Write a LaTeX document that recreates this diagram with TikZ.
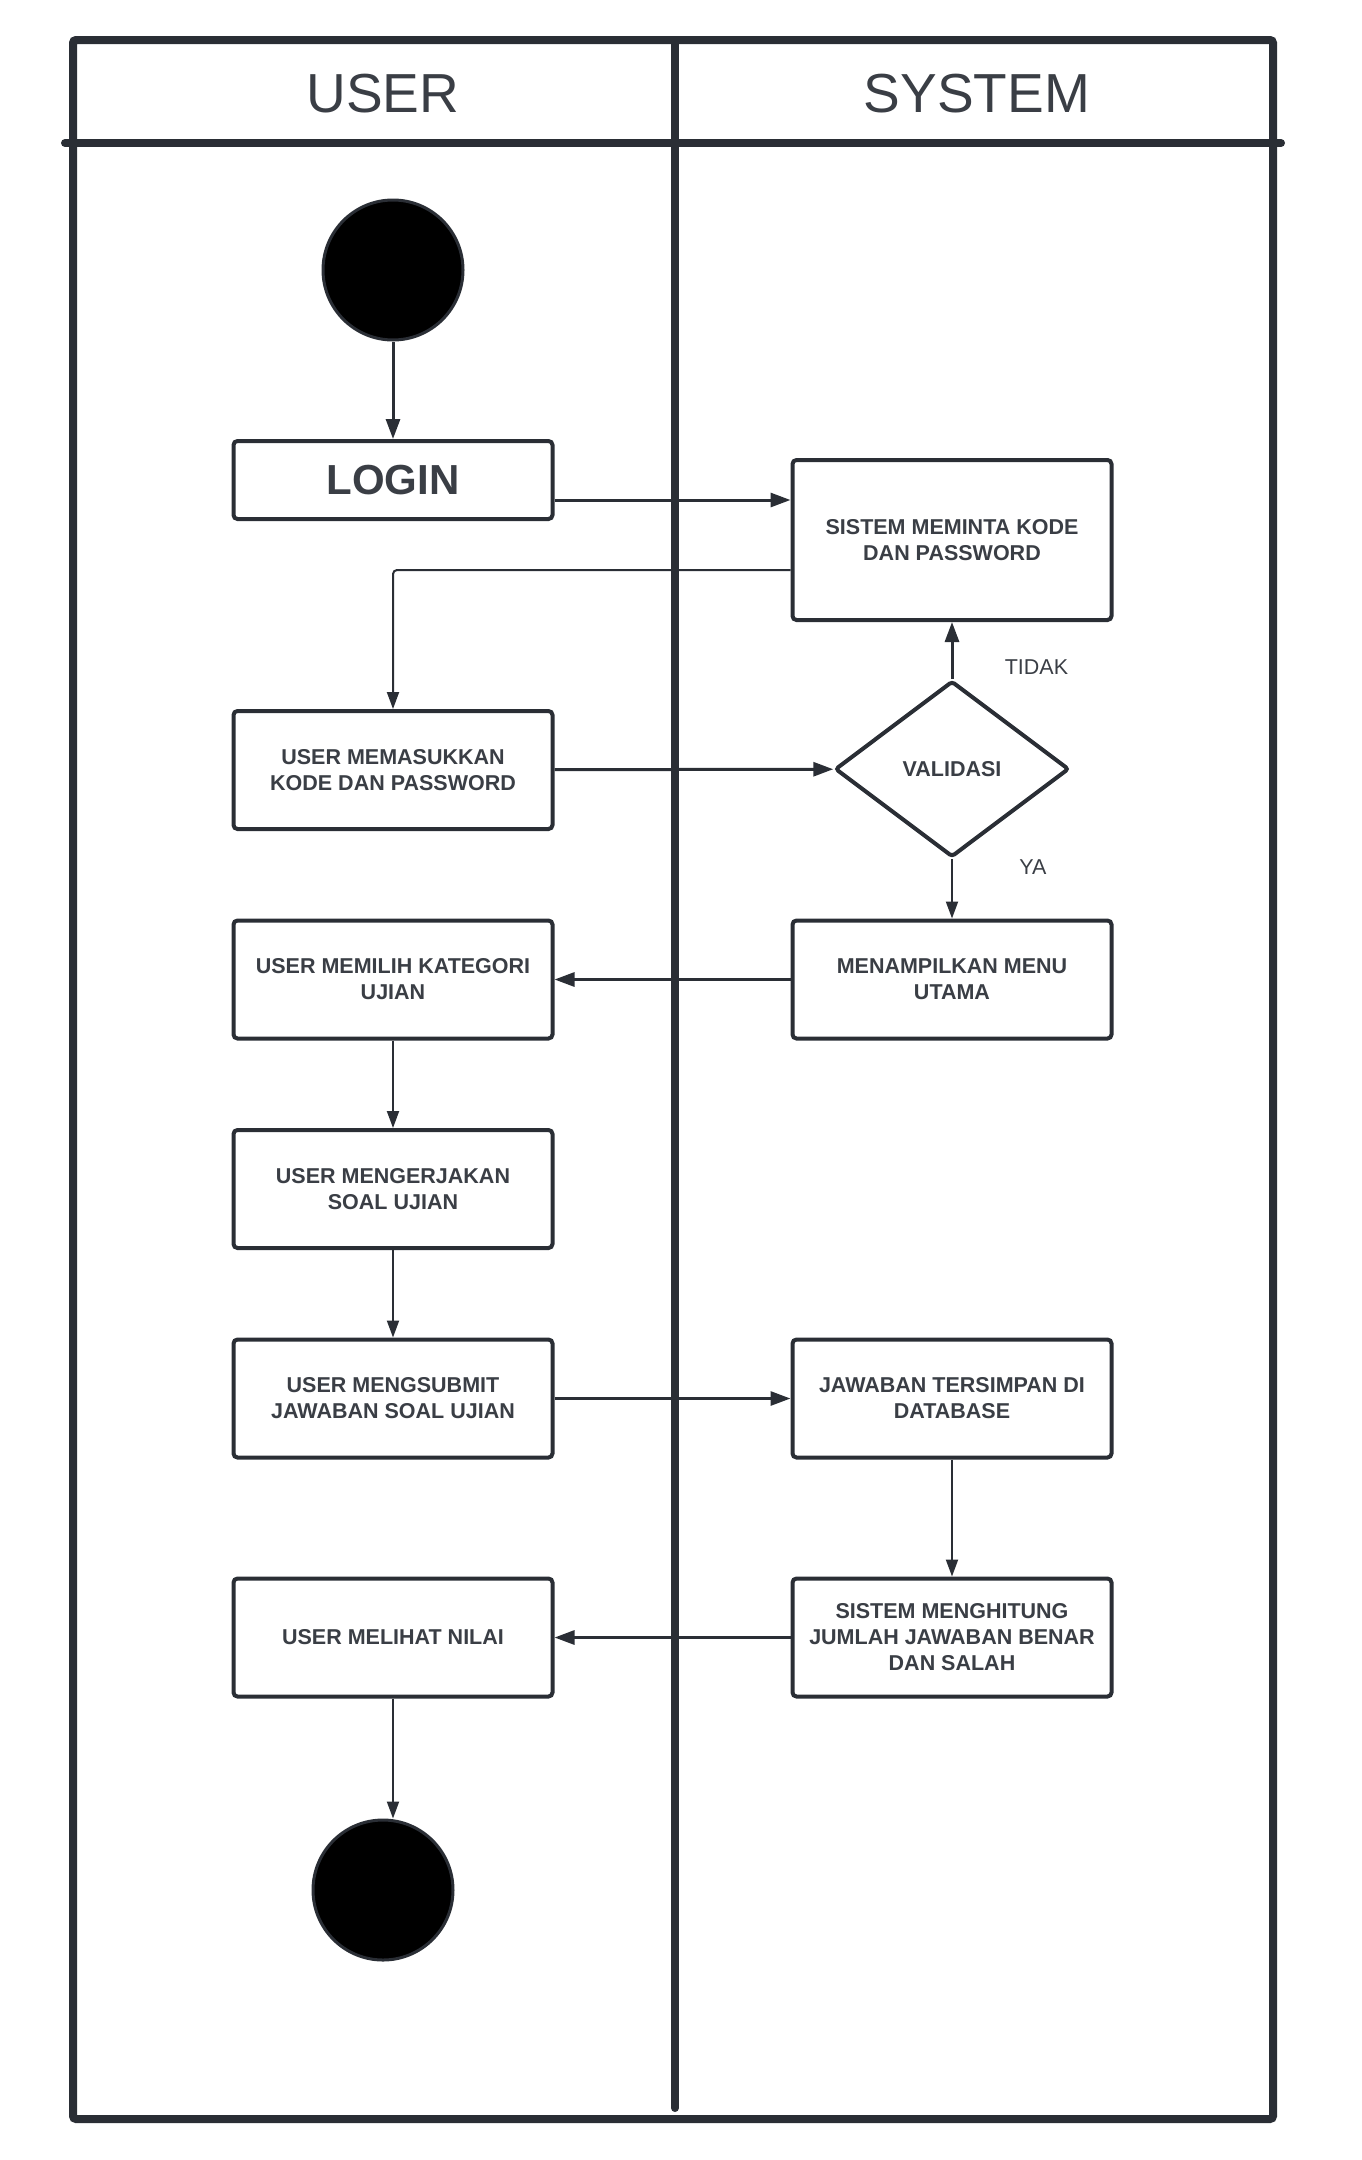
\documentclass[tikz,border=0pt]{standalone}
\usepackage{fontspec}
\setmainfont{Liberation Sans}
\usepackage{tikz}
\usetikzlibrary{shapes, arrows.meta, calc, positioning}
\definecolor{garis}{HTML}{2A2E35}
\definecolor{tulisan}{HTML}{3A3E45}
\tikzset{
    x=1pt, y=-1pt, node distance = 87.5pt, % one unit is one pixel of the page, the y axis points down
    lane/.style = {draw=garis, line width=8pt}, % the frame of the swimlanes
    box/.style = {rectangle, draw=garis, line width=4pt, rounded corners=4pt, minimum width=319pt, minimum height=118pt, align=center, text=tulisan, font=\fontsize{21.5}{26}\selectfont\bfseries, inner sep=0pt},
    decision/.style = {diamond, draw=garis, line width=4pt, rounded corners=3pt, minimum width=234pt, minimum height=176pt, inner sep=0pt, text=tulisan, font=\fontsize{21.5}{26}\selectfont\bfseries},
    dot/.style = {circle, draw=garis, line width=3pt, fill=black, minimum size=140pt, inner sep=0pt},
    flow/.style = {draw=garis, line width=3pt, -{Triangle[length=20pt, width=14pt]}}, % the thick connector
    thinflow/.style = {draw=garis, line width=2pt, -{Triangle[length=17pt, width=12pt]}}, % the thin connector
    el/.style = {text=tulisan, font=\fontsize{21.5}{26}\selectfont}
}
\begin{document}
\begin{tikzpicture}
    \useasboundingbox (0,0) rectangle (1361,2160);
    % swimlanes
    \draw[lane, rounded corners=3pt] (73,40) rectangle (1273,2119);
    \draw[lane, line cap=round] (65,143) -- (1281,143);
    \draw[lane, line cap=round] (675,40) -- (675,2108);
    \node[text=tulisan, font=\fontsize{55}{60}\selectfont] (user) at (383,94) {USER};
    \node[text=tulisan, font=\fontsize{55}{60}\selectfont] (system) at (977,94) {SYSTEM};

    % user lane
    \node[dot] (mulai) at (393,270) {};
    \node[box, minimum height=78pt, font=\fontsize{42}{48}\selectfont\bfseries] (login) at (393,480) {LOGIN};
    \node[box] (masuk) at (393,770) {USER MEMASUKKAN\\KODE DAN PASSWORD};
    \node[box] (pilih) [below =of masuk] {USER MEMILIH KATEGORI\\UJIAN};
    \node[box] (kerja) [below =of pilih] {USER MENGERJAKAN\\SOAL UJIAN};
    \node[box] (submit) [below =of kerja] {USER MENGSUBMIT\\JAWABAN SOAL UJIAN};
    \node[box] (lihat) [below =117pt of submit] {USER MELIHAT NILAI};
    \node[dot] (selesai) at (383,1890) {};

    % system lane
    \node[box, minimum height=160pt] (minta) at (952,540) {SISTEM MEMINTA KODE\\DAN PASSWORD};
    \node[decision] (valid) at (952,769) {VALIDASI};
    \node[box] (menu) at (pilih -| valid) {MENAMPILKAN MENU\\UTAMA};
    \node[box] (simpan) at (submit -| valid) {JAWABAN TERSIMPAN DI\\DATABASE};
    \node[box] (hitung) at (lihat -| valid) {SISTEM MENGHITUNG\\JUMLAH JAWABAN BENAR\\DAN SALAH};

    % connectors
    \coordinate (p1) at ([yshift=-20pt]login.east);
    \coordinate (p2) at ([yshift=-30pt]minta.west);
    \path (mulai) edge[flow] (login);
    \path (p1) edge[flow] (p1 -| minta.west);
    \draw[thinflow, rounded corners=4pt] (p2) -| (masuk.north);
    \path (masuk) edge[flow] (valid);
    \path (valid.north) edge[flow] node[el, right=48pt, pos=0.21] {TIDAK} (minta.south);
    \path (valid.south) edge[thinflow] node[el, right=63pt, pos=0.14] {YA} (menu.north);
    \path (menu) edge[flow] (pilih);
    \path (pilih) edge[thinflow] (kerja);
    \path (kerja) edge[thinflow] (submit);
    \path (submit) edge[flow] (simpan);
    \path (simpan) edge[thinflow] (hitung);
    \path (hitung) edge[flow] (lihat);
    \path (lihat.south) edge[thinflow] (lihat.south |- selesai.north);
\end{tikzpicture}
\end{document}
